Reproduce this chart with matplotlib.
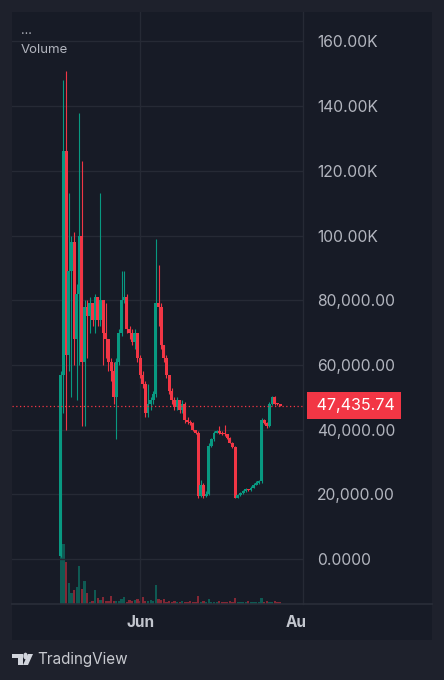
import numpy as np
import pandas as pd
import matplotlib
matplotlib.use("Agg")
import matplotlib.pyplot as plt
import matplotlib.dates as mdates
from matplotlib.patches import Rectangle, Polygon, Circle
from matplotlib.transforms import blended_transform_factory

plt.rcParams['font.family'] = ['Inter', 'DejaVu Sans']

# ---- data (daily candles, prices in USD) ----
dates = pd.date_range("2024-05-02", periods=84, freq="D")

closes = [57, 126, 63, 89, 98, 68, 82, 100, 61, 78,
          75, 79, 74, 81, 74, 80, 70, 68, 61, 58,
          50, 61, 70, 80, 81, 71, 70, 67, 70, 62,
          57, 54, 45, 48, 49, 51, 79, 78, 66, 62,
          57, 52, 49, 47, 49, 46, 48, 43, 42.5, 42,
          40, 39, 19.5, 23, 19.5, 20, 35, 37, 39, 39.5,
          39, 38.7, 38.5, 37.5, 36, 34.6, 19, 19.8, 20.3, 21,
          21.5, 21.2, 22, 23, 23.5, 24, 43, 42, 41, 48,
          50, 48, 47.8, 47.43574]
opens = [1] + closes[:-1]
highs = [58, 148, 151, 113, 100, 101, 85, 138, 123, 80,
         80, 81, 79, 82, 81, 113, 80, 79, 67, 62,
         61, 62, 71, 89, 89, 82, 72, 71, 71, 70,
         63, 58, 55, 54, 50, 52, 99, 91, 79, 66,
         63, 57, 53, 50, 50, 49, 49, 48.5, 44, 43,
         42.5, 40, 39.5, 24.5, 23.5, 21, 36, 37.5, 39.5, 40,
         41, 39.5, 41.5, 38.7, 37.6, 36.2, 35, 20.2, 20.7, 21.4,
         22, 21.7, 22.5, 23.4, 24, 24.5, 43.5, 43.2, 42.2, 48.6,
         50.5, 50.3, 48.3, 48]
lows = [0.5, 45, 40, 58, 50, 60, 49, 60, 41, 41,
        62, 70, 72, 70, 72, 72, 60, 62, 58, 55,
        48, 37, 60, 69, 79, 70, 68, 66, 65, 61,
        56, 53, 44, 44, 46, 48, 50, 72, 65, 61,
        56, 51, 48, 46, 46, 45, 45, 42, 41.8, 41.5,
        39.5, 38.5, 19, 19.2, 19, 19.2, 19.8, 34.5, 36.5, 39,
        38.6, 38.3, 38, 37.2, 35.8, 34.3, 18.8, 18.9, 19.6, 20.1,
        20.8, 20.9, 21, 21.8, 22.8, 23.2, 23.5, 41.6, 40.5, 40.8,
        47.6, 47.6, 47.5, 47.2]
volumes = [75, 60, 42, 21, 11, 14, 17, 38, 15, 23,
           11, 2, 3, 14, 6, 4, 7, 3, 3, 8,
           3, 3, 3, 5, 7, 2, 4, 3, 4, 5,
           3, 7, 3, 3, 4, 3, 19, 5, 4, 5,
           2, 3, 2, 3, 2, 2, 3, 2, 2, 3,
           2, 2, 8, 2, 3, 2, 5, 2, 2, 2,
           3, 2, 2, 2, 3, 2, 6, 2, 2, 2,
           2, 3, 2, 2, 2, 2, 6, 2, 3, 2,
           2, 3, 2, 2]

opens = np.array(opens) * 1000
closes = np.array(closes) * 1000
highs = np.array(highs) * 1000
lows = np.array(lows) * 1000
volumes = np.array(volumes) * 10000

price_ticks = [0, 20000, 40000, 60000, 80000, 100000, 120000, 140000, 160000]
price_tick_labels = ["0.0000", "20,000.00", "40,000.00", "60,000.00", "80,000.00",
                     "100.00K", "120.00K", "140.00K", "160.00K"]
last_price = 47435.74

# ---- colors ----
outer_bg = "#1e212c"
panel_bg = "#171b26"
grid_c = "#262a35"
text_c = "#b2b5be"
up_c = "#089981"
down_c = "#f23645"

W, H = 444, 680
fig = plt.figure(figsize=(W / 100, H / 100), dpi=100)
fig.patch.set_facecolor(outer_bg)

def fx(px):
    return px / W

def fy(py):
    return 1 - py / H

# panel background
fig.patches.append(Rectangle((fx(12), fy(640)), fx(432) - fx(12), fy(12) - fy(640),
                             transform=fig.transFigure, facecolor=panel_bg,
                             edgecolor="none", zorder=0))

ax = fig.add_axes([fx(12), fy(604), fx(303) - fx(12), fy(12) - fy(604)])
ax.set_facecolor("none")
axv = ax.twinx()
axv.set_facecolor("none")

x = mdates.date2num(dates)
xmin = x[0] - 18.5
xmax = x[0] + 91.7

# volume
vcol = [up_c if c >= o else down_c for o, c in zip(opens, closes)]
axv.bar(x, volumes, width=0.85, color=vcol, alpha=0.5, linewidth=0)
axv.set_ylim(0, volumes.max() / 0.127)
axv.set_yticks([])
axv.set_zorder(1)
ax.set_zorder(2)

# candles
for xi, o, h, l, c, col in zip(x, opens, highs, lows, closes, vcol):
    ax.vlines(xi, l, h, color=col, linewidth=0.8, zorder=3)
    bottom = min(o, c)
    height = max(abs(c - o), 300)
    ax.bar(xi, height, bottom=bottom, width=1.12, color=col, linewidth=0, zorder=4)

ax.set_xlim(xmin, xmax)
axv.set_xlim(xmin, xmax)
ax.set_ylim(-13910, 169088)

# grid
for p in price_ticks:
    ax.axhline(p, color=grid_c, linewidth=1, zorder=1)
ax.axvline(mdates.date2num(pd.Timestamp("2024-06-01")), color=grid_c, linewidth=1, zorder=1)

# last price line
ax.axhline(last_price, color=down_c, linewidth=0.9, linestyle=(0, (1, 2)), zorder=5)

for sp in ax.spines.values():
    sp.set_visible(False)
for sp in axv.spines.values():
    sp.set_visible(False)

ax.yaxis.tick_right()
ax.set_yticks(price_ticks)
ax.set_yticklabels(price_tick_labels)
ax.tick_params(axis="y", length=0, pad=10, labelsize=11.3, labelcolor=text_c)
ax.set_xticks([])

# last price label
tr = blended_transform_factory(ax.transAxes, ax.transData)
ax.text(1.032, last_price, " 47,435.74", transform=tr, ha="left", va="center",
        fontsize=11.6, color="white", zorder=10, clip_on=False,
        bbox=dict(boxstyle="square,pad=0.36", facecolor=down_c, edgecolor="none"))

# separators
fig.add_artist(plt.Line2D([fx(303), fx(303)], [fy(12), fy(604)], color=grid_c, linewidth=1))
fig.add_artist(plt.Line2D([fx(12), fx(432)], [fy(604), fy(604)], color="#2a2e39", linewidth=1.2))

# time axis labels
tx = ax.get_xaxis_transform()
ax.text(mdates.date2num(pd.Timestamp("2024-06-01")), -0.032, "Jun", transform=tx,
        ha="center", va="center", fontsize=11, fontweight="bold", color="#c3c6ce", clip_on=False)
aug = ax.text(mdates.date2num(pd.Timestamp("2024-08-01")), -0.032, "Aug", transform=tx,
              ha="center", va="center", fontsize=11, fontweight="bold", color="#c3c6ce")
clip = Rectangle((fx(12), fy(640)), fx(305) - fx(12), fy(604) - fy(640), transform=fig.transFigure)
aug.set_clip_path(clip)
aug.set_clip_on(True)

# legend texts
fig.text(fx(21), fy(31), "...", fontsize=9, color=text_c, ha="left", va="center")
fig.text(fx(21), fy(50), "Volume", fontsize=9.5, color=text_c, ha="left", va="center")

# TradingView logo
fig.patches.append(Polygon([(fx(12), fy(654)), (fx(23), fy(654)), (fx(23), fy(665)),
                            (fx(18), fy(665)), (fx(18), fy(658)), (fx(12), fy(658))],
                           closed=True, transform=fig.transFigure, facecolor="#d1d4dc", edgecolor="none"))
fig.patches.append(Circle((fx(25.5), fy(656)), 2.2 / W, transform=fig.transFigure,
                          facecolor="#d1d4dc", edgecolor="none"))
fig.patches.append(Polygon([(fx(28), fy(654)), (fx(33), fy(654)), (fx(28), fy(665)), (fx(23), fy(665))],
                           closed=True, transform=fig.transFigure, facecolor="#d1d4dc", edgecolor="none"))
fig.text(fx(37), fy(659.5), "TradingView", fontsize=11, color="#c8cad0", ha="left", va="center")

fig.savefig("out.png", dpi=100, facecolor=outer_bg)
